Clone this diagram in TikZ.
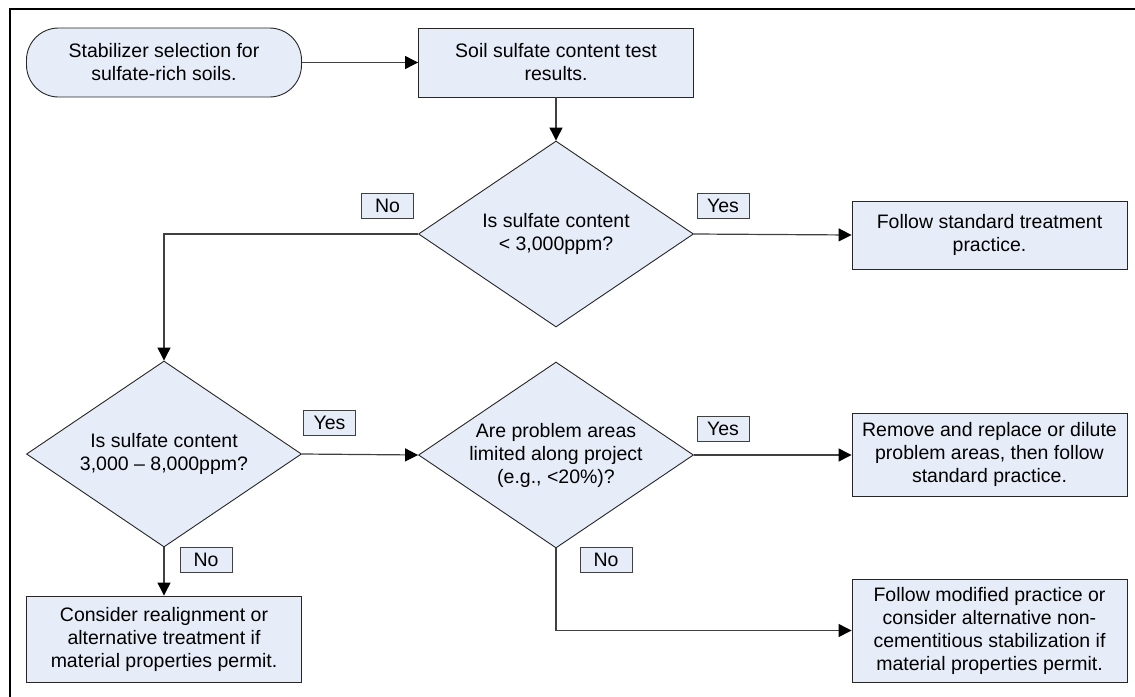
\documentclass[tikz,border=0pt]{standalone}
\usepackage{fontspec}
\setmainfont{Liberation Sans}
\usetikzlibrary{arrows.meta,shapes.geometric}
\definecolor{boxfill}{RGB}{231,237,248}
\tikzset{
	proc/.style={draw=black!85, fill=boxfill, minimum width=275pt, align=center, inner sep=0pt, line width=0.9pt},
	decis/.style={draw=black!85, fill=boxfill, diamond, shape aspect=1.48, minimum width=275pt, minimum height=186pt, inner sep=0pt, align=center, line width=0.9pt},
	tag/.style={draw=black!75, fill=boxfill, minimum width=52pt, minimum height=25pt, inner sep=0pt, line width=0.9pt},
	flow/.style={draw=black!75, line width=1.2pt, -{Triangle[length=13pt,width=13pt,color=black,fill=black]}},
}

\begin{document}
\begin{tikzpicture}[x=1pt, y=-1pt, every node/.style={font=\fontsize{19.5}{23}\selectfont}]
			%%%%% START %%%%%
			\useasboundingbox (0, 0) rectangle (1135, 696);
			\draw[line width=2.6pt] (10, 720) -- (10, 9) -- (1160, 9);
			
			% top row
			\node[proc, minimum height=69pt, rounded corners=32pt] (start) at (164, 62.5) {Stabilizer selection for\\sulfate-rich soils.};
			\node[proc, minimum height=69pt] (test) at (556, 62.5) {Soil sulfate content test\\results.};
			
			% first question
			\node[decis] (low) at (556, 234) {Is sulfate content\\< 3,000ppm?};
			\node[proc, minimum height=68pt] (standard) at (989.5, 235) {Follow standard treatment\\practice.};
			
			% second and third question
			\node[decis] (mid) at (164, 454) {Is sulfate content\\3,000 -- 8,000ppm?};
			\node[decis] (limited) at (556, 455) {Are problem areas\\limited along project\\(e.g., <20\%)?};
			\node[proc, minimum height=83pt] (replace) at (989.5, 454.5) {Remove and replace or dilute\\problem areas, then follow\\standard practice.};
			\node[proc, minimum height=86pt] (realign) at (164, 639) {Consider realignment or\\alternative treatment if\\material properties permit.};
			\node[proc, minimum height=103pt] (modified) at (989.5, 630.5) {Follow modified practice or\\consider alternative non-\\cementitious stabilization if\\material properties permit.};
			
			% connectors
			\draw[flow] (start) -- (test);
			\draw[flow] (test) -- (low);
			\draw[flow] (low.east) -- (standard.west);
			\draw[flow] (low.west) -| (mid.north);
			\draw[flow] (mid.east) -- (limited.west);
			\draw[flow] (mid.south) -- (realign.north);
			\draw[flow] (limited.east) -- (replace.west |- limited.east);
			\draw[flow] (limited.south) |- (modified.west);
			
			% yes / no tags
			\node[tag] (nolow) at (387.5, 205.5) {No};
			\node[tag] (yeslow) at (723, 205.5) {Yes};
			\node[tag] (yesmid) at (329.5, 422.5) {Yes};
			\node[tag] (nomid) at (206, 560) {No};
			\node[tag] (yeslim) at (723, 429) {Yes};
			\node[tag] (nolim) at (606, 560) {No};
			%%%%% END %%%%%
\end{tikzpicture}
\end{document}
